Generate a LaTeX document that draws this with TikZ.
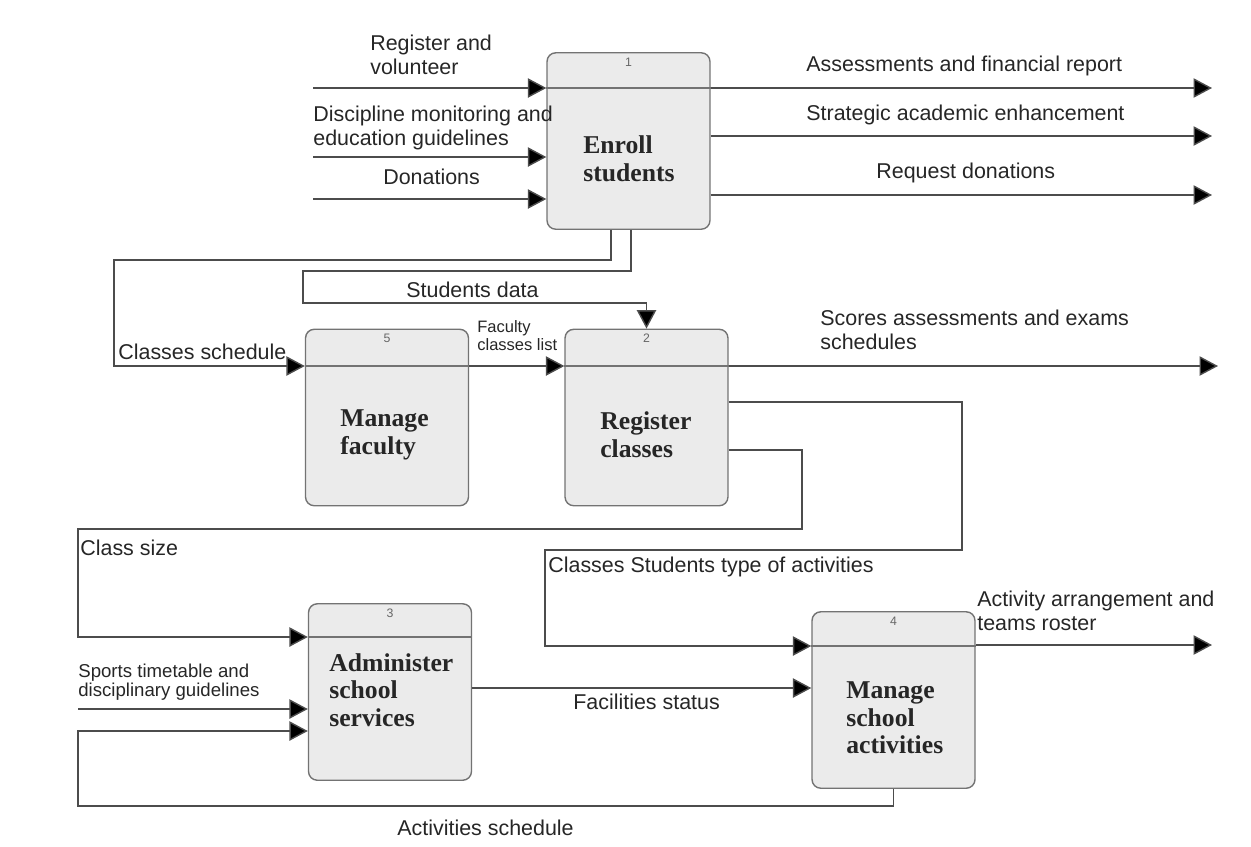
\documentclass[tikz,border=0pt]{standalone}
\usepackage{fontspec}
\setmainfont{Liberation Serif}
\setsansfont{Liberation Sans}
\usetikzlibrary{arrows.meta}
\definecolor{lineGray}{gray}{0.30}
\definecolor{boxFill}{gray}{0.92}
\definecolor{boxLine}{gray}{0.45}
\definecolor{textGray}{gray}{0.15}
\newcommand{\flowFont}{\sffamily\fontsize{12.2}{13.6}\selectfont}
\newcommand{\smallFlowFont}{\sffamily\fontsize{10.6}{10.8}\selectfont}
\newcommand{\tinyFlowFont}{\sffamily\fontsize{9.4}{10.2}\selectfont}

\begin{document}
\begin{tikzpicture}[x=0.02cm, y=-0.02cm,
    process/.style={draw=boxLine, fill=boxFill, rounded corners=5pt, line width=0.8pt,
        minimum width=3.26cm, minimum height=3.53cm, inner sep=0pt},
    ptitle/.style={anchor=west, align=left, inner sep=0pt, text=textGray,
        font=\bfseries\fontsize{14.6}{15.7}\selectfont},
    pnum/.style={anchor=north, yshift=-3pt, inner sep=0pt, text=black!60,
        font=\sffamily\scriptsize},
    flow/.style={draw=lineGray, line width=0.8pt,
        -{Triangle[length=10.5pt, width=11pt, fill=black]}},
    divider/.style={draw=boxLine, line width=0.6pt},
    flowtext/.style={anchor=west, align=left, inner sep=0pt, text=textGray, font=\flowFont}]
    \useasboundingbox (0,0) rectangle (1251,846);

    % processes
    \node[process, label={[pnum]north:1}] (enroll) at (628.5,141) {};
    \node[process, label={[pnum]north:5}] (faculty) at (387,417.5) {};
    \node[process, label={[pnum]north:2}] (register) at (646.5,417.5) {};
    \node[process, label={[pnum]north:3}] (admin) at (390,692) {};
    \node[process, label={[pnum]north:4}] (activities) at (893.5,700) {};

    \draw[divider] (enroll.west |- 0,88) -- (enroll.east |- 0,88);
    \draw[divider] (faculty.west |- 0,366) -- (faculty.east |- 0,366);
    \draw[divider] (register.west |- 0,366) -- (register.east |- 0,366);
    \draw[divider] (admin.west |- 0,637) -- (admin.east |- 0,637);
    \draw[divider] (activities.west |- 0,646) -- (activities.east |- 0,646);

    \node[ptitle] (enrollT) at (583,159) {Enroll\\students};
    \node[ptitle] (facultyT) at (340,435) {Manage\\faculty};
    \node[ptitle] (registerT) at (600,435) {Register\\classes};
    \node[ptitle] (adminT) at (329,690) {Administer\\school\\services};
    \node[ptitle] (activitiesT) at (846,718) {Manage\\school\\activities};

    % inputs to process 1
    \coordinate (inReg) at (313,88);
    \coordinate (inDisc) at (313,157);
    \coordinate (inDon) at (313,199);
    \draw[flow] (inReg) -- (inReg -| enroll.west);
    \draw[flow] (inDisc) -- (inDisc -| enroll.west);
    \draw[flow] (inDon) -- (inDon -| enroll.west);
    \node[flowtext] (regText) at (370,55) {Register and\\volunteer};
    \node[flowtext] (discText) at (313,128) {Discipline monitoring and\\education guidelines};
    \node[flowtext] (donText) at (383,177) {Donations};

    % outputs of process 1
    \coordinate (outAss) at (1212,88);
    \coordinate (outStrat) at (1212,136);
    \coordinate (outReq) at (1212,195);
    \draw[flow] (outAss -| enroll.east) -- (outAss);
    \draw[flow] (outStrat -| enroll.east) -- (outStrat);
    \draw[flow] (outReq -| enroll.east) -- (outReq);
    \node[flowtext] (assText) at (806,66) {Assessments and financial report};
    \node[flowtext] (stratText) at (806,115) {Strategic academic enhancement};
    \node[flowtext] (reqText) at (876,173) {Request donations};

    % process 1 to 5 and 2
    \draw[flow] (enroll.south -| 611,0) |- (114,260) |- (faculty.west |- 0,366);
    \node[flowtext] (schedText) at (118,352) {Classes schedule};
    \draw[flow] (enroll.south -| 631,0) |- (303,271) |- (register.north |- 0,303) -- (register.north);
    \node[flowtext] (studText) at (406,290) {Students data};

    % process 5 to 2
    \draw[flow] (faculty.east |- 0,366) -- (register.west |- 0,366);
    \node[flowtext, font=\tinyFlowFont] (facText) at (477,336) {Faculty\\classes list};

    % outputs of process 2
    \coordinate (outScore) at (1218,366);
    \draw[flow] (outScore -| register.east) -- (outScore);
    \node[flowtext] (scoreText) at (820,330) {Scores assessments and exams\\schedules};
    \draw[flow] (register.east |- 0,402) -| (962,550) -| (545,646) -- (activities.west |- 0,646);
    \node[flowtext] (typeText) at (548,567) {Classes Students type of activities};
    \draw[flow] (register.east |- 0,450) -| (802,529) -| (78,637) -- (admin.west |- 0,637);
    \node[flowtext] (sizeText) at (80,548) {Class size};

    % process 3
    \coordinate (inSports) at (78,709);
    \draw[flow] (inSports) -- (inSports -| admin.west);
    \node[flowtext, font=\smallFlowFont] (sportsText) at (78,682) {Sports timetable and\\disciplinary guidelines};
    \draw[flow] (admin.east |- 0,688) -- (activities.west |- 0,688);
    \node[flowtext] (facilText) at (573,702) {Facilities status};

    % process 4
    \coordinate (outArr) at (1212,645);
    \draw[flow] (outArr -| activities.east) -- (outArr);
    \node[flowtext] (arrText) at (977,611) {Activity arrangement and\\teams roster};
    \draw[flow] (activities.south) |- (78,806) |- (admin.west |- 0,731);
    \node[flowtext] (actText) at (397,828) {Activities schedule};

\end{tikzpicture}
\end{document}
